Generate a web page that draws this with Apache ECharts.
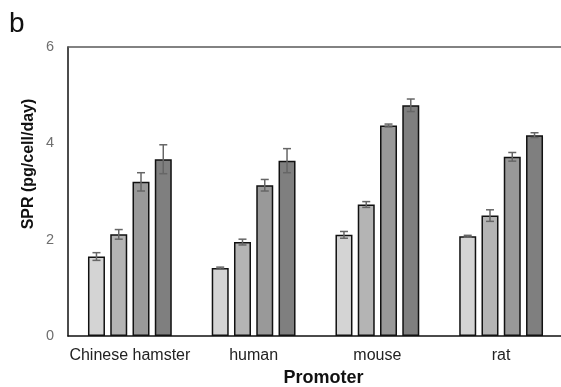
<!DOCTYPE html>
<html>
<head>
<meta charset="utf-8">
<script src="https://cdn.jsdelivr.net/npm/echarts@6/dist/echarts.min.js"></script>
<style>
html,body{margin:0;padding:0;background:#fff;}
#c{width:561px;height:387px;}
</style>
</head>
<body>
<div id="c"></div>
<script>
const categories = ['Chinese hamster', 'human', 'mouse', 'rat'];
const yTicks = [0, 2, 4, 6];
const series1 = [1.65, 1.41, 2.10, 2.07];
const err1 = [0.08, 0.02, 0.07, 0.02];
const series2 = [2.11, 1.95, 2.73, 2.50];
const err2 = [0.10, 0.06, 0.06, 0.12];
const series3 = [3.20, 3.13, 4.37, 3.72];
const err3 = [0.19, 0.12, 0.03, 0.09];
const series4 = [3.67, 3.64, 4.79, 4.17];
const err4 = [0.30, 0.25, 0.13, 0.05];

const FONT = 'Liberation Sans, Arial, sans-serif';
const colors = ['#d4d4d4', '#b4b4b4', '#999999', '#7f7f7f'];
const BAR_W = 17;
const BAR_GAP = 0.31;
const values = [series1, series2, series3, series4];
const errs = [err1, err2, err3, err4];

const chart = echarts.init(document.getElementById('c'), null, {renderer: 'canvas'});

const barSeries = values.map((v, i) => ({
  type: 'bar',
  data: v,
  barWidth: BAR_W,
  barGap: (BAR_GAP * 100) + '%',
  itemStyle: {color: colors[i], borderColor: '#111', borderWidth: 1.5},
  silent: true,
  z: 2
}));

const step = BAR_W * (1 + BAR_GAP);
const errSeries = errs.map((e, i) => ({
  type: 'custom',
  z: 5,
  silent: true,
  data: values[i].map((v, k) => [k, v, e[k]]),
  renderItem: function (params, api) {
    const k = api.value(0), v = api.value(1), er = api.value(2);
    const hi = api.coord([k, v + er]);
    const lo = api.coord([k, v - er]);
    const x = hi[0] + (i - 1.5) * step;
    const cap = 4;
    const st = {stroke: '#666', lineWidth: 1.5};
    return {
      type: 'group',
      children: [
        {type: 'line', shape: {x1: x, y1: hi[1], x2: x, y2: lo[1]}, style: st},
        {type: 'line', shape: {x1: x - cap, y1: hi[1], x2: x + cap, y2: hi[1]}, style: st},
        {type: 'line', shape: {x1: x - cap, y1: lo[1], x2: x + cap, y2: lo[1]}, style: st}
      ]
    };
  }
}));

chart.setOption({
  animation: false,
  backgroundColor: '#fff',
  grid: {left: 68, top: 47, width: 495, height: 289, containLabel: false, outerBoundsMode: 'none'},
  xAxis: [{
    type: 'category',
    data: categories,
    position: 'bottom',
    axisLine: {lineStyle: {color: '#111', width: 1.5}},
    axisTick: {show: false},
    axisLabel: {color: '#222', fontSize: 16, fontFamily: FONT, margin: 12, interval: 0},
    name: 'Promoter',
    nameLocation: 'middle',
    nameGap: 33,
    nameTextStyle: {color: '#111', fontSize: 18, fontWeight: 'bold', fontFamily: FONT, padding: [0, 0, 0, 16]}
  }, {
    type: 'category',
    data: categories,
    position: 'top',
    axisLine: {lineStyle: {color: '#595959', width: 1.5}},
    axisTick: {show: false},
    axisLabel: {show: false}
  }],
  yAxis: {
    type: 'value',
    min: yTicks[0],
    max: yTicks[yTicks.length - 1],
    interval: 2,
    axisLine: {show: true, lineStyle: {color: '#111', width: 1.5}},
    axisTick: {show: false},
    splitLine: {show: false},
    axisLabel: {color: '#6e6e6e', fontSize: 14.5, fontFamily: FONT, margin: 14}
  },
  graphic: [
    {type: 'text', left: 9, top: 10, style: {text: 'b', fontSize: 28, fontFamily: FONT, fill: '#111'}},
    {type: 'text', x: 29, y: 164, rotation: Math.PI / 2,
     style: {text: 'SPR (pg/cell/day)', fontSize: 16, fontWeight: 'bold', fontFamily: FONT, fill: '#111', align: 'center', verticalAlign: 'middle'}}
  ],
  series: barSeries.concat(errSeries)
});
</script>
</body>
</html>
